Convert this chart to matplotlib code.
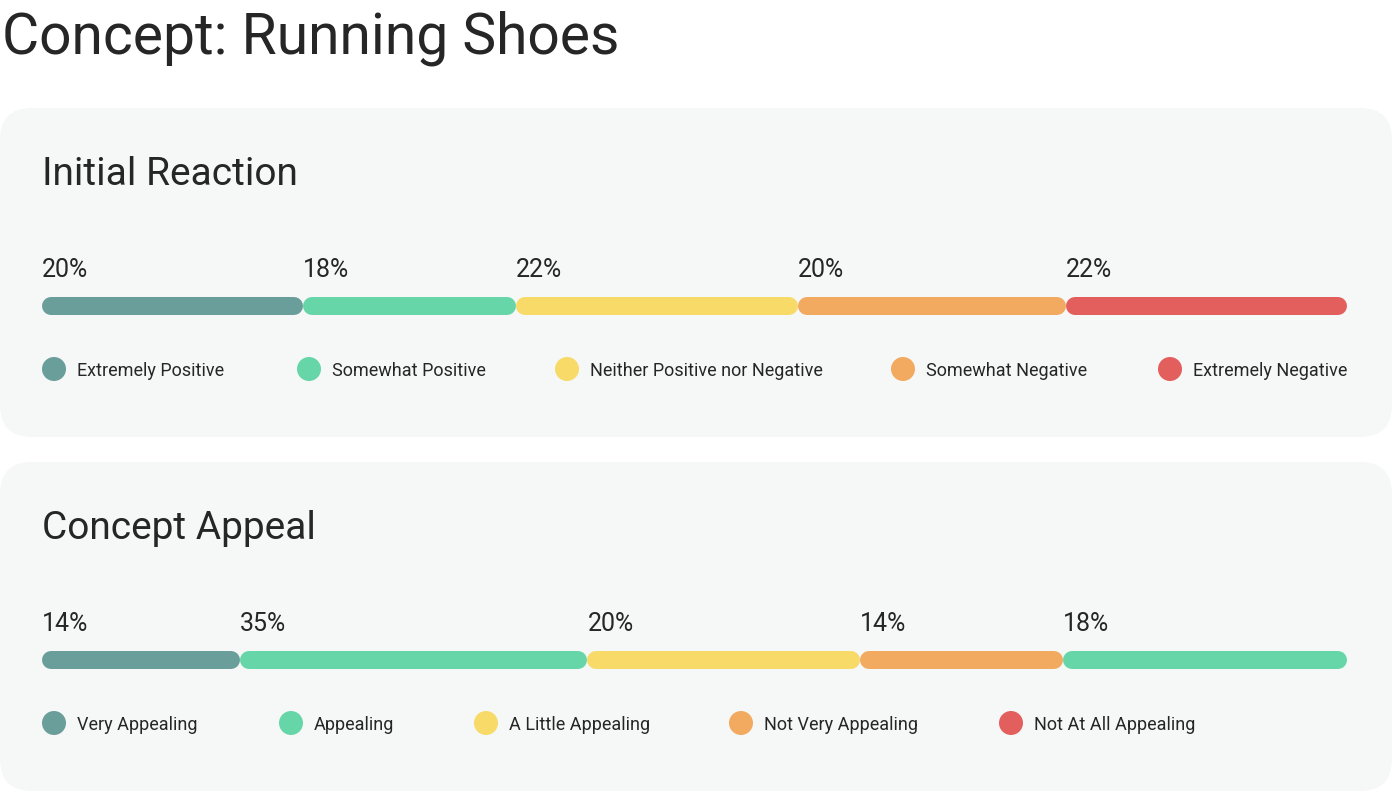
import matplotlib.pyplot as plt
from matplotlib.patches import FancyBboxPatch, Circle

plt.rcParams['font.family'] = ['Roboto', 'DejaVu Sans']

W, H = 1392, 792
title = "Concept: Running Shoes"

# card 1
reaction_title = "Initial Reaction"
reaction_shares = [20.0, 16.3, 21.6, 20.5, 21.5]   # segment widths as drawn
reaction_labels = ["20%", "18%", "22%", "20%", "22%"]
reaction_bar_colors = ["#6a9e9a", "#66d6a8", "#f8da68", "#f2aa60", "#e35f5d"]
reaction_legend = ["Extremely Positive", "Somewhat Positive", "Neither Positive nor Negative",
                   "Somewhat Negative", "Extremely Negative"]

# card 2
appeal_title = "Concept Appeal"
appeal_shares = [15.2, 26.6, 20.9, 15.5, 21.8]
appeal_labels = ["14%", "35%", "20%", "14%", "18%"]
appeal_bar_colors = ["#6a9e9a", "#66d6a8", "#f8da68", "#f2aa60", "#66d6a8"]
appeal_legend = ["Very Appealing", "Appealing", "A Little Appealing",
                 "Not Very Appealing", "Not At All Appealing"]
legend_colors = ["#6a9e9a", "#66d6a8", "#f8da68", "#f2aa60", "#e35f5d"]

TEXT = "#262626"
CARD = "#f6f7f7"

fig = plt.figure(figsize=(W / 100, H / 100), dpi=100)
fig.patch.set_facecolor("white")
bg = fig.add_axes([0, 0, 1, 1])
bg.set_xlim(0, W)
bg.set_ylim(H, 0)
bg.axis("off")

bg.text(2, 53, title, fontsize=41, color=TEXT, va="baseline", ha="left")

BAR_X0, BAR_X1 = 42, 1347
BAR_T = 18


def draw_card(top, name, shares, labels, bar_colors, legend, legend_x):
    bg.add_patch(FancyBboxPatch((0, top), W, 329, boxstyle="round,pad=0,rounding_size=32",
                                fc=CARD, ec="none"))
    bg.text(42, top + 77, name, fontsize=28, color=TEXT, va="baseline")

    # bar axes in percent units
    bar_cy = top + 198
    bax = fig.add_axes([BAR_X0 / W, 1 - (bar_cy + BAR_T / 2) / H,
                        (BAR_X1 - BAR_X0) / W, BAR_T / H])
    total = sum(shares)
    bax.set_xlim(0, total)
    bax.set_ylim(-0.5, 0.5)
    bax.axis("off")
    rad = (BAR_T / 2) * total / (BAR_X1 - BAR_X0)
    lw = BAR_T * 72 / 100
    left = 0
    for s, lab, c in zip(shares, labels, bar_colors):
        bax.plot([left + rad, left + s - rad], [0, 0], color=c, lw=lw,
                 solid_capstyle="round")
        bax.annotate(lab, (left, 0), xycoords="data", xytext=(0, 29),
                     textcoords="offset pixels", fontsize=18, color=TEXT,
                     ha="left", va="baseline", annotation_clip=False)
        left += s

    ly = top + 261
    for x, lab, c in zip(legend_x, legend, legend_colors):
        bg.add_patch(Circle((x, ly), 12, fc=c, ec="none"))
        bg.text(x + 23, ly + 7, lab, fontsize=13, color=TEXT, va="baseline")


draw_card(108, reaction_title, reaction_shares, reaction_labels, reaction_bar_colors,
          reaction_legend, [54, 309, 567, 903, 1170])
draw_card(462, appeal_title, appeal_shares, appeal_labels, appeal_bar_colors,
          appeal_legend, [54, 291, 486, 741, 1011])

fig.savefig("out.png", dpi=100, facecolor=fig.get_facecolor())
